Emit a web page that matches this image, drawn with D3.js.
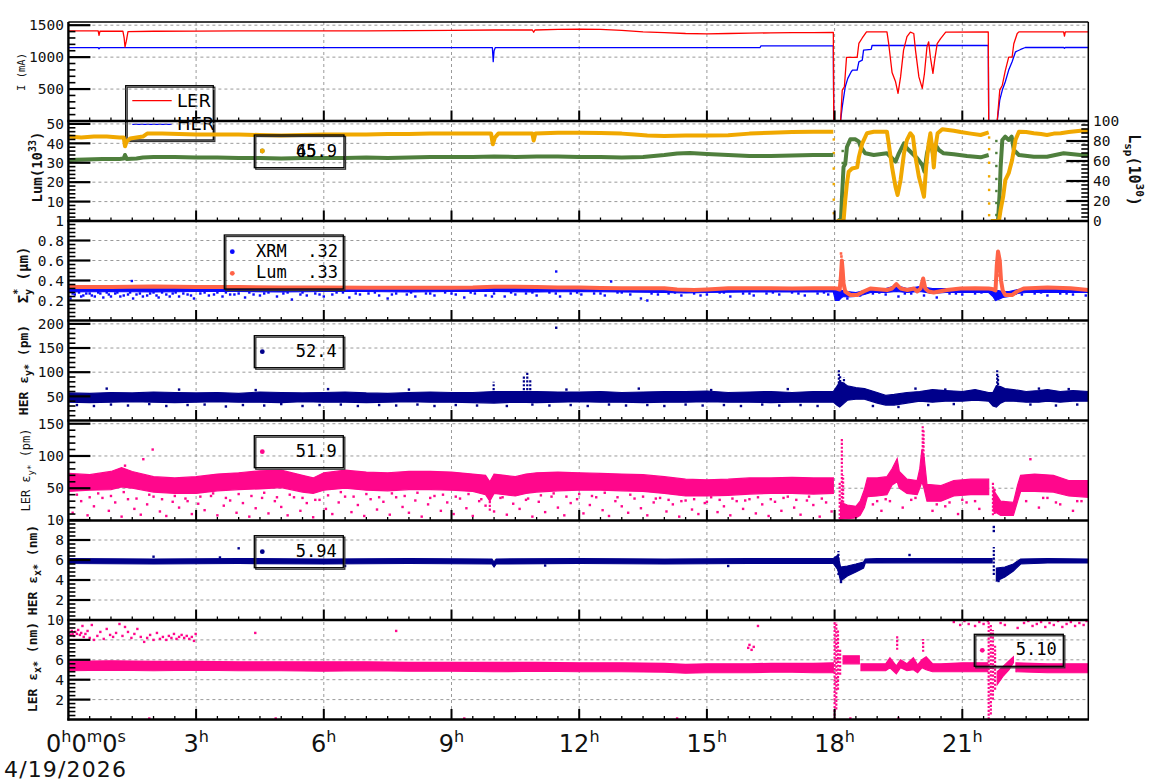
<!DOCTYPE html>
<html><head><meta charset="utf-8">
<script src="https://cdn.jsdelivr.net/npm/d3@7"></script>
<style>body{margin:0;background:#fff}svg{display:block}</style>
</head><body><svg id="chart" width="1160" height="782"></svg>
<script>
// ---------------- DATA ----------------
const hourTicks = [3,6,9,12,15,18,21];
const firstTickLabel = ["0","h","0","m","0","s"];
const dateLabel = "4/19/2026";
const ticksCurrent = [500,1000,1500];
const ticksLum = [10,20,30,40,50];
const ticksLsp = [0,20,40,60,80,100];
const ticksSigma = [0.2,0.4,0.6,0.8,1];
const ticksHerEy = [50,100,150,200];
const ticksLerEy = [50,100,150];
const ticksHerEx = [2,4,6,8,10];
const ticksLerEx = [2,4,6,8,10];

// Panel 1: beam currents (mA)
const lerT=[0,0.70,0.72,0.74,1.28,1.31,1.33,1.36,1.40,2,3,4,5,6,7,8,9,10,10.9,10.93,10.96,11.5,12,12.5,13,13.5,14,14.5,15,15.5,16,16.5,17,17.5,17.97,17.98,18.14,18.18,18.23,18.28,18.53,18.57,18.65,18.75,19.23,19.27,19.35,19.43,19.49,19.55,19.62,19.70,19.78,19.86,19.90,19.98,20.06,20.11,20.17,20.21,20.25,20.31,20.35,20.41,20.49,20.61,21.61,21.62,21.82,21.88,21.94,22.01,22.09,22.17,22.21,22.29,22.33,23.38,23.40,23.42,23.96];
const lerI=[1410,1410,1340,1405,1408,1300,1160,1250,1400,1405,1408,1410,1412,1410,1412,1415,1420,1425,1425,1390,1425,1435,1440,1435,1420,1395,1385,1370,1365,1370,1375,1380,1385,1385,1386,0,0,484,536,995,995,1214,1300,1395,1395,1214,760,620,432,690,1110,1320,1390,1370,1110,690,510,740,1160,1240,1000,745,950,1210,1290,1390,1395,0,0,484,560,790,1000,1000,1210,1370,1395,1395,1330,1395,1395];
const herT=[0,0.70,0.72,0.74,9.96,9.98,10.0,10.03,16.25,16.27,17.97,17.98,18.14,18.18,18.25,18.31,18.39,18.42,18.53,18.57,18.65,18.68,18.86,18.88,21.61,21.62,21.82,21.88,21.94,22.01,22.09,22.17,22.25,22.37,22.48,23.38,23.40,23.42,23.96];
const herI=[1150,1150,1130,1150,1150,930,1100,1150,1150,1177,1177,0,0,224,536,667,771,797,797,927,953,1109,1120,1182,1182,0,0,328,484,615,797,927,1083,1120,1151,1151,1138,1151,1151];

// Panel 2: luminosity (left axis) and specific luminosity (right axis)
const lumT=[0,0.3,0.6,0.9,1.2,1.3,1.33,1.37,1.45,1.6,1.75,1.85,2.2,2.6,3,3.5,4,4.5,5,5.5,6,6.5,7,7.5,8,8.5,9,9.5,9.93,9.97,10.02,10.1,10.5,10.9,10.93,10.97,11.5,12,12.5,13,13.3,13.6,14,14.5,15,15.5,16,16.5,17,17.5,17.97,17.98,18.05,18.21,18.25,18.29,18.33,18.41,18.53,18.57,18.65,18.76,18.92,19.23,19.27,19.35,19.43,19.48,19.55,19.63,19.70,19.78,19.84,19.90,19.98,20.06,20.10,20.15,20.21,20.25,20.29,20.33,20.37,20.42,20.53,20.80,20.96,21.2,21.43,21.62,21.63,21.67,21.86,21.9,21.96,22.01,22.09,22.17,22.25,22.33,22.5,22.68,22.85,22.99,23.15,23.31,23.5,23.78,23.96];
const lumV=[43.5,43,43.5,43.5,43,43,38.5,41,42.5,43,43.5,45,45,44.8,44.5,44.5,44.5,44.3,44,44.3,44.5,44.5,44.5,44.8,44.8,45,45,45,45,39.5,43,45,45,45,41.5,45,45.5,45.5,45.3,45,44.5,44,43.8,44,44,44.2,45,45.5,45.8,46,46,null,0,0,10.8,19.4,25.4,27,27.6,33,40,45.2,46,46,40,27.6,17.7,13.4,21.1,34.9,41.8,45.2,43.5,33,22.8,16,12.5,27.6,40,45.2,38.3,27.6,38.3,45.2,47.3,46.5,45.8,45,44.3,45.6,null,0,0,5.7,12.5,21,24.6,31.4,41.8,46,45.8,45.2,44.8,44.3,45,45.2,45.8,46.5,46.5];
const lspT=[0,0.4,0.8,1.2,1.3,1.33,1.37,1.6,1.75,2,2.5,3,3.5,4,4.5,5,5.5,6,6.5,7,7.5,8,8.5,9,9.5,10,10.5,11,11.5,12,12.5,13,13.5,14,14.3,14.6,15,15.5,16,16.5,17,17.5,17.97,17.98,18.08,18.15,18.17,18.21,18.25,18.29,18.37,18.49,18.57,18.61,18.72,18.92,19.23,19.35,19.43,19.51,19.63,19.70,19.82,19.94,20.06,20.11,20.17,20.25,20.31,20.37,20.45,20.56,20.80,21.11,21.43,21.62,21.63,21.84,21.88,21.9,21.94,22.01,22.09,22.16,22.21,22.33,22.68,22.99,23.38,23.78,23.96];
const lspV=[61,61.5,62,62,62.5,66,62,62.5,63.5,64,64,63.5,63.5,63,63,62.5,63,63,63,63.5,63,63.5,64,64,64,64.5,64,64.5,64.5,64,64,63.5,64,66,67.5,68,67,66,65,65,65.5,66,66,null,0,2,21,54,57,74,81.7,81.7,79.3,74.3,67.7,66,67.7,62.7,59.3,67.7,77.7,72.7,67.7,62.7,56,49.3,67.7,81,67.7,76,71,67.7,66.7,65,63.7,66,null,1,30,54,81,84.3,81,84.3,71,66,64.3,64.3,67.7,66,66];
const lumDotT=[17.98,17.98,17.98,17.98,17.98,17.98,21.63,21.63,21.63,21.63,21.63,21.63,21.63];
const lumDotV=[4,11,19,27,35,42,3,9,16,23,30,37,43];
const lspDotT=[18.19,18.19,18.19,18.19,18.19,18.19,21.80,21.80,21.80,21.80,21.80,21.80,21.80];
const lspDotV=[8,20,32,44,58,70,6,18,30,42,55,68,80];

// Panel 3: vertical beam size (um)
const tomT=[0,1,2,3,4,5,6,7,8,9,9.5,10,10.5,11,11.5,12,12.5,13,13.5,14,14.3,14.7,15,15.5,16,16.5,17,17.5,17.97,18.05,18.12,18.15,18.17,18.19,18.21,18.25,18.37,18.53,18.68,18.84,19.23,19.35,19.45,19.55,19.71,19.86,19.94,20.02,20.08,20.13,20.21,20.33,20.64,20.96,21.3,21.62,21.7,21.78,21.81,21.84,21.88,21.91,21.95,22.01,22.17,22.29,22.44,23.0,23.54,23.96];
const tomV=[.335,.335,.34,.335,.335,.33,.33,.328,.328,.328,.33,.338,.338,.335,.33,.33,.325,.322,.322,.322,.31,.305,.31,.322,.322,.322,.32,.322,.322,.32,.31,.45,.6,.5,.37,.29,.255,.255,.29,.32,.305,.32,.365,.32,.305,.32,.29,.32,.42,.32,.29,.28,.305,.32,.322,.32,.315,.3,.55,.69,.6,.4,.3,.255,.255,.29,.32,.33,.322,.305];
const tomDotT=[18.15,18.16,18.16,18.17,18.15,21.83,21.84,21.85,21.83];
const tomDotV=[0.67,0.64,0.58,0.52,0.47,0.66,0.62,0.5,0.45];
const xrmT=[0,1,2,3,4,5,6,7,8,9,10,11,12,13,14,14.5,15,16,17,17.97,18.02,18.1,18.14,18.2,18.3,18.5,18.7,18.85,19.2,19.45,19.7,20.0,20.3,20.6,21.0,21.62,21.72,21.78,21.85,21.95,22.1,22.3,22.5,23,23.5,23.96];
const xrmLo=[.285,.29,.285,.29,.29,.285,.29,.29,.285,.29,.29,.285,.29,.285,.28,.275,.28,.285,.285,.285,.2,.2,.22,.24,.235,.24,.26,.28,.28,.29,.28,.29,.27,.28,.28,.28,.24,.2,.21,.23,.24,.27,.28,.28,.28,.28];
const xrmHi=[.325,.33,.33,.325,.325,.325,.325,.32,.32,.32,.33,.33,.325,.32,.315,.305,.31,.315,.315,.32,.31,.3,.3,.3,.29,.28,.3,.32,.32,.35,.32,.34,.32,.32,.32,.32,.3,.3,.3,.29,.29,.31,.32,.33,.32,.32];
const xrmDotT=[0.05,0.15,0.3,0.42,0.55,0.7,0.82,0.95,1.1,1.22,1.4,1.52,1.68,1.85,2.0,2.12,2.3,2.45,2.6,2.8,2.95,3.1,3.3,3.5,3.62,3.8,4.0,4.15,4.35,4.5,4.7,4.9,5.05,5.25,5.45,5.6,5.8,6.0,6.2,6.45,6.6,6.85,7.05,7.3,7.5,7.7,7.95,8.15,8.4,8.6,8.85,9.1,9.3,9.55,9.8,10.0,10.25,10.5,10.75,11.0,11.3,11.55,11.8,12.05,12.35,12.6,12.9,13.2,13.45,13.6,13.85,14.1,14.4,14.7,15.0,15.3,15.55,15.85,16.1,16.4,16.7,17.0,17.3,17.6,17.85,18.3,18.6,18.9,19.2,19.5,19.8,20.1,20.4,20.7,21.0,21.3,22.4,22.7,23.0,23.3,23.6,23.9,1.49,11.46,12.75,
 0.1,0.25,0.35,0.5,0.62,0.75,0.9,1.0,1.15,1.3,1.45,1.6,1.75,1.92,2.07,2.2,2.38,2.52,2.7,2.88,3.2,3.42,3.7,3.9,4.25,4.6,5.15,5.5,5.9,6.3,6.75,7.2,7.6,8.05,8.5,9.0,9.45,9.95,10.4,10.9,11.45,11.95,12.5,13.0,13.7,14.25,14.85,15.4,16.0,16.55,17.15,17.75,18.45,19.05,19.65,20.25,20.85,21.45,22.25,22.85,23.45];
const xrmDotV=[0.22,0.26,0.24,0.27,0.25,0.28,0.23,0.26,0.27,0.24,0.26,0.22,0.27,0.25,0.28,0.23,0.26,0.27,0.24,0.26,0.22,0.27,0.25,0.28,0.24,0.26,0.27,0.23,0.26,0.25,0.28,0.24,0.27,0.21,0.26,0.25,0.27,0.24,0.26,0.28,0.23,0.26,0.27,0.25,0.22,0.27,0.26,0.24,0.27,0.25,0.28,0.26,0.23,0.27,0.25,0.27,0.24,0.26,0.27,0.25,0.28,0.24,0.27,0.26,0.27,0.25,0.28,0.26,0.22,0.2,0.26,0.27,0.25,0.27,0.26,0.28,0.24,0.27,0.25,0.27,0.26,0.28,0.25,0.27,0.26,0.22,0.25,0.27,0.26,0.24,0.27,0.25,0.23,0.27,0.26,0.27,0.26,0.27,0.25,0.27,0.26,0.25,0.395,0.49,0.39,
 0.27,0.28,0.25,0.27,0.24,0.27,0.28,0.24,0.28,0.25,0.28,0.26,0.24,0.27,0.25,0.28,0.24,0.28,0.27,0.25,0.28,0.26,0.28,0.26,0.28,0.27,0.28,0.28,0.26,0.28,0.27,0.28,0.26,0.28,0.27,0.27,0.28,0.24,0.28,0.28,0.27,0.28,0.27,0.28,0.27,0.28,0.25,0.28,0.27,0.28,0.27,0.28,0.27,0.28,0.27,0.28,0.27,0.28,0.27,0.28,0.27];

// Panel 4: HER vertical emittance (pm)
const herEyT=[0,0.5,1,1.5,2,2.5,3,3.5,4,4.5,5,5.5,6,6.5,7,7.5,8,8.5,9,9.5,10,10.5,11,11.5,12,12.5,13,13.5,14,14.5,15,15.5,16,16.5,17,17.5,17.97,18.05,18.12,18.2,18.3,18.5,18.7,19.0,19.2,19.4,19.7,20.0,20.3,20.6,21.0,21.3,21.62,21.72,21.8,21.9,22.0,22.2,22.5,22.8,23,23.3,23.6,23.96];
const herEyLo=[38,37,38,39,38,37,38,39,38,38,37,39,38,38,37,38,39,38,38,37,36,38,37,38,39,38,38,37,38,38,39,38,38,37,38,38,38,32,28,34,42,44,44,36,32,32,36,40,38,40,40,42,40,30,28,36,40,40,38,38,40,38,40,40];
const herEyHi=[57,56,58,57,59,58,57,58,56,59,58,57,58,59,57,56,58,59,58,58,60,60,60,59,59,60,58,59,60,60,61,58,59,60,58,60,60,70,80,78,72,68,66,58,52,54,58,60,64,62,60,64,58,58,72,70,66,64,60,62,64,60,62,60];
const herEySpikeT=[9.99,10.7,10.78,10.85,18.1,18.13,18.22,21.82,21.84];
const herEySpikeLo=[55,55,55,55,45,40,50,45,50];
const herEySpikeHi=[80,92,101,85,104,95,90,104,92];
const herEyDotT=[0.2,0.6,0.9,1.0,1.4,1.9,2.3,2.6,2.8,3.2,3.7,4.1,4.4,4.6,5.0,5.5,5.9,6.1,6.4,6.8,7.3,7.7,8.0,8.2,8.6,9.1,9.6,10.3,10.9,11.3,11.46,11.7,11.8,12.2,12.7,13.1,13.4,13.6,14.0,14.5,14.9,15.1,15.4,15.8,16.3,16.7,16.9,17.2,17.6,18.9,19.5,19.9,20.2,20.6,20.8,22.6,22.8,23.2,23.5,23.7];
const herEyDotV=[32,30,66,33,31,34,30,64,32,33,29,32,63,31,34,30,32,65,33,30,32,31,64,33,30,32,31,30,33,31,192,64,32,30,33,31,66,32,30,33,31,63,32,30,33,31,65,32,30,30,28,66,32,64,34,33,66,31,65,33];

// Panel 5: LER vertical emittance (pm)
const lerEyT=[0,0.5,1,1.25,1.5,2,2.5,3,3.5,4,4.5,5,5.5,5.75,6,6.5,7,7.5,8,8.5,9,9.5,9.8,9.9,10,10.25,10.5,10.75,11,11.5,12,12.5,13,13.5,14,14.5,15,15.5,16,16.5,17,17.5,17.97,17.99,18.14,18.3,18.5,18.6,18.7,18.77,19.0,19.23,19.35,19.47,19.52,19.7,19.94,20.0,20.05,20.1,20.17,20.5,20.8,21.2,21.62,21.66,21.73,21.9,22.2,22.3,22.37,22.7,23.14,23.5,23.96];
const lerEyLo=[45,47,48,52,50,44,42,42,46,48,49,51,44,42,47,50,47,46,48,48,47,45,40,30,42,40,38,42,44,46,47,47,46,45,42,38,38,39,41,42,42,41,42,null,2,3,4,8,20,37,38,40,55,60,50,42,40,50,60,50,30,30,38,40,40,null,15,8,8,30,45,45,44,38,36];
const lerEyHi=[73,71,76,82,76,68,66,68,72,74,77,78,70,66,74,78,75,74,76,76,75,72,70,60,72,70,68,72,74,75,74,73,72,71,68,64,63,64,66,66,67,66,66,null,28,24,22,30,48,66,66,68,80,96,76,64,62,80,110,100,56,54,62,64,64,null,47,30,28,55,70,72,70,62,62];
const lerEySpikeT=[9.9,18.12,18.17,18.2,20.07,20.09,21.72,21.76];
const lerEySpikeLo=[15,2,5,10,90,95,8,10];
const lerEySpikeHi=[45,60,128,70,146,140,60,50];
const lerEyDotT=[0.1,0.3,0.45,0.6,0.8,0.95,1.1,1.25,1.4,1.55,1.7,1.85,2.0,2.15,2.3,2.45,2.6,2.75,2.9,3.05,3.2,3.35,3.5,3.65,3.8,3.95,4.1,4.25,4.4,4.55,4.7,4.85,5.0,5.15,5.3,5.45,5.6,5.75,5.9,6.05,6.2,6.35,6.5,6.65,6.8,6.95,7.1,7.25,7.4,7.55,7.7,7.85,8.0,8.15,8.3,8.45,8.6,8.75,8.9,9.05,9.2,9.35,9.5,9.65,9.8,10.0,10.15,10.3,10.45,10.6,10.75,10.9,11.05,11.2,11.35,11.5,11.65,11.8,11.95,12.1,12.25,12.4,12.55,12.7,12.85,13.0,13.15,13.3,13.45,13.6,13.75,13.9,14.05,14.2,14.35,14.5,14.65,14.8,14.95,15.1,15.25,15.4,15.55,15.7,15.85,16.0,16.15,16.3,16.45,16.6,16.75,16.9,17.05,17.2,17.35,17.5,17.65,17.8,17.93,1.33,1.76,1.98,18.9,19.1,19.3,19.6,19.8,20.3,20.6,20.9,21.1,21.4,22.5,22.6,22.8,23.0,23.3,23.6,23.8,
 0.2,0.5,0.7,1.0,1.3,1.6,1.9,2.2,2.5,2.8,3.1,3.4,3.7,4.0,4.3,4.6,4.9,5.2,5.5,5.8,6.1,6.4,6.7,7.0,7.3,7.6,7.9,8.2,8.5,8.8,9.1,9.4,9.7,10.2,10.5,10.8,11.1,11.4,11.7,12.0,12.3,12.6,12.9,13.2,13.5,13.8,14.1,14.4,14.7,15.0,15.3,15.6,15.9,16.2,16.5,16.8,17.1,17.4,17.7,19.0,19.2,19.9,20.4,20.7,21.0,21.3,22.9,23.2,23.7];
const lerEyDotV=[12,30,8,22,35,15,28,6,33,18,9,25,37,14,7,29,20,34,10,26,16,38,8,23,31,12,27,6,19,35,11,30,21,8,36,15,27,5,32,18,10,28,37,13,24,7,33,17,29,9,36,21,12,31,6,25,38,15,28,10,34,19,7,30,23,14,35,9,26,18,32,6,29,13,37,20,8,27,33,11,24,36,16,7,30,22,12,34,19,8,28,35,14,25,6,31,17,10,27,36,13,22,8,30,18,33,11,25,7,29,15,37,20,9,31,24,6,28,14,85,95,110,25,15,30,20,32,15,22,10,28,18,30,95,20,35,25,15,30,
 40,36,42,38,44,34,40,33,38,30,37,42,35,41,38,43,36,40,35,32,39,44,37,41,36,42,38,43,35,40,37,41,33,36,40,34,39,42,37,41,38,43,36,40,37,34,32,30,33,29,32,34,31,36,33,35,32,37,34,30,33,35,25,28,32,30,35,28,30];

// Panel 6: HER horizontal emittance (nm)
const herExT=[0,2,4,6,8,9.95,10.0,10.05,12,14,16,17.97,18.08,18.14,18.3,18.5,18.68,18.72,19,20,21,21.7,21.76,21.8,22.0,22.2,22.37,23,23.96];
const herExLo=[5.65,5.6,5.65,5.6,5.65,5.6,5.3,5.6,5.65,5.6,5.65,5.65,5.0,3.9,4.4,4.8,5.2,5.7,5.7,5.72,5.7,5.7,null,3.9,4.3,4.9,5.6,5.7,5.7];
const herExHi=[6.15,6.1,6.15,6.1,6.15,6.1,5.8,6.1,6.15,6.1,6.15,6.15,6.5,5.3,5.4,5.6,5.8,6.1,6.15,6.15,6.15,6.15,null,5.2,5.3,5.6,6.1,6.15,6.1];
const herExSpikeT=[18.09,21.74];
const herExSpikeLo=[4.5,4.5];
const herExSpikeHi=[6.9,7.3];
const herExDotT=[2.0,3.56,4.0,6.5,11.2,15.5,18.15,19.76,21.74,21.74,21.85];
const herExDotV=[6.33,6.25,7.17,5.4,5.45,5.4,3.8,6.5,9.3,8.9,3.9];

// Panel 7: LER horizontal emittance (nm)
const lerExT=[0,1,2,3,4,5,6,7,8,9,10,11,12,13,14,14.5,15,15.5,16,16.5,17,17.5,17.97,17.99,18.2,18.58,18.6,18.62,19.2,19.3,19.45,19.55,19.7,19.85,19.95,20.05,20.15,20.3,20.5,21.0,21.6,21.65,21.82,21.95,22.1,22.2,22.23,22.26,23,23.96];
const lerExLo=[4.9,4.95,4.9,4.95,4.9,4.9,4.85,4.9,4.85,4.85,4.8,4.85,4.8,4.8,4.75,4.65,4.7,4.7,4.7,4.75,4.75,4.7,4.7,null,5.6,5.6,null,4.9,4.9,5.2,4.6,5.2,4.9,5.0,4.7,5.2,5.0,4.8,4.8,4.8,4.8,null,3.5,4.3,5.0,5.7,null,4.8,4.7,4.7];
const lerExHi=[5.85,5.9,5.85,5.85,5.8,5.8,5.8,5.8,5.75,5.75,5.75,5.75,5.7,5.7,5.65,5.55,5.6,5.6,5.6,5.65,5.65,5.65,5.7,null,6.4,6.4,null,5.6,5.6,6.2,5.4,6.0,5.6,6.2,5.5,6.0,6.3,5.6,5.6,5.7,5.7,null,4.8,5.3,5.9,6.3,null,5.7,5.6,5.6];
const lerExSpikeT=[18.0,18.04,18.08,18.13,21.62,21.67,21.72,21.77,19.47,20.08];
const lerExSpikeLo=[0,1,3,4.5,0,0.5,2,3,7.0,6.8];
const lerExSpikeHi=[10,9.8,9,7,10,9.6,9,7.5,8.5,8.1];
const lerExDotT=[0.02,0.05,0.08,0.1,0.13,0.16,0.2,0.23,0.27,0.3,0.33,0.36,0.4,0.45,0.5,0.55,0.6,0.68,0.75,0.83,0.9,0.98,1.05,1.12,1.2,1.27,1.33,1.4,1.48,1.55,1.62,1.7,1.78,1.85,1.92,2.0,2.08,2.15,2.22,2.3,2.36,2.42,2.48,2.54,2.6,2.66,2.72,2.78,2.84,2.9,2.95,2.99,4.39,7.7,15.97,16.05,16.1,16.2,16.0,20.8,20.95,21.05,21.15,21.3,21.4,21.5,21.6,21.9,22.0,22.3,22.45,22.55,22.65,22.75,22.85,22.95,23.05,23.15,23.25,23.35,23.45,23.55,23.65,23.75,23.85,23.92,1.9,4.87,9.3,14.3,18.37,19.5];
const lerExDotV=[8.7,8.5,8.9,8.6,8.4,8.8,8.6,9.0,8.5,8.7,9.4,8.3,8.6,8.9,8.2,9.5,8.0,8.4,8.8,8.1,9.1,8.5,8.3,8.7,9.6,8.4,9.3,8.8,8.2,8.6,9.1,8.3,7.8,8.2,8.5,8.0,8.7,8.1,8.3,8.0,8.4,8.2,8.6,8.1,8.3,8.5,8.2,8.4,8.1,8.3,7.9,8.6,8.7,8.9,7.2,7.0,7.3,9.4,7.5,9.8,9.5,9.9,9.6,9.4,9.8,9.6,9.9,9.7,9.5,9.2,9.7,9.9,9.4,9.6,9.8,9.3,9.7,9.5,9.9,9.3,9.6,9.8,9.4,9.7,9.5,9.9,0.1,0.1,0.1,0.1,0.1,0.1];

// legend values
const legendLum = ["65.9","45"];
const legendSigma = [["XRM","  .32"],["Lum","  .33"]];
const legendHerEy = "52.4", legendLerEy = "51.9", legendHerEx = "5.94", legendLerEx = "5.10";

// ---------------- DRAW ----------------
const C = {ler:"#ff0000", her:"#0000ff", lum:"#f0a800", lsp:"#4f7f3d", xrm:"#0a0aff", tom:"#ff6347", navy:"#00008b", pink:"#ff078c"};
const svg = d3.select("#chart");
svg.append("rect").attr("width",1160).attr("height",782).attr("fill","#fff");
const XL = 68.4, XR = 1088.3;
const x = d3.scaleLinear().domain([0,23.96]).range([XL,XR]);
const P = [
  {top:22, bot:121, dom:[0,1550], majors:ticksCurrent, minor:100, fmt:d=>d},
  {top:121, bot:221, dom:[0,51.5], majors:ticksLum, minor:2, fmt:d=>d},
  {top:220.5, bot:320.5, dom:[0,1], majors:ticksSigma, minor:0.04, fmt:d=>d===1?"1":d.toFixed(1)},
  {top:320, bot:420.5, dom:[0,208], majors:ticksHerEy, minor:10, fmt:d=>d},
  {top:420.5, bot:520.5, dom:[0,155], majors:ticksLerEy, minor:10, fmt:d=>d},
  {top:520, bot:620, dom:[0,10], majors:ticksHerEx, minor:0.4, fmt:d=>d},
  {top:620, bot:719.5, dom:[0,10], majors:ticksLerEx, minor:0.4, fmt:d=>d}
];
P.forEach(p=>{p.y=d3.scaleLinear().domain(p.dom).range([p.bot,p.top]);});
const yR = d3.scaleLinear().domain([0,100]).range([221,121]);
const defs = svg.append("defs");
P.forEach((p,i)=>defs.append("clipPath").attr("id","cp"+i).append("rect")
  .attr("x",XL).attr("y",p.top).attr("width",XR-XL).attr("height",p.bot-p.top));

const MONO = "'DejaVu Sans Mono', monospace";
const SANS = "'DejaVu Sans', sans-serif";

function legendBox(g,bx,by,bw,bh){
  g.append("rect").attr("x",bx+1.5).attr("y",by+1.5).attr("width",bw).attr("height",bh)
   .attr("fill","none").attr("stroke","#333").attr("stroke-width",1.3);
  g.append("rect").attr("x",bx).attr("y",by).attr("width",bw).attr("height",bh)
   .attr("fill","none").attr("stroke","#000").attr("stroke-width",1.3);
}

{
  const g = svg.append("g");
  legendBox(g,125.7,85.7,87.6,54.3);
  g.append("line").attr("x1",132.3).attr("x2",171.7).attr("y1",100.7).attr("y2",100.7).attr("stroke",C.ler).attr("stroke-width",1.2);
  g.append("line").attr("x1",132.3).attr("x2",171.7).attr("y1",124.3).attr("y2",124.3).attr("stroke",C.her).attr("stroke-width",1.2);
  g.append("text").attr("x",177).attr("y",107).attr("font-family",SANS).attr("font-size",18).text("LER");
  g.append("text").attr("x",177).attr("y",130).attr("font-family",SANS).attr("font-size",18).text("HER");
}

const grid = svg.append("g").attr("stroke","#9a9a9a").attr("stroke-width",1).attr("stroke-dasharray","3,3");
hourTicks.forEach(h=>grid.append("line").attr("x1",x(h)).attr("x2",x(h)).attr("y1",22).attr("y2",719.5));
P.forEach(p=>p.majors.forEach(v=>{const yy=p.y(v); if(yy>p.top+1.5) grid.append("line").attr("x1",XL).attr("x2",XR).attr("y1",yy).attr("y2",yy);}));

function pg(i){return svg.append("g").attr("clip-path","url(#cp"+i+")");}
function drawLine(g,T,V,ys,color,w){
  const data=T.map((t,k)=>[t,V[k]]);
  g.append("path").datum(data).attr("fill","none").attr("stroke",color).attr("stroke-width",w)
   .attr("stroke-linejoin","round")
   .attr("d",d3.line().defined(d=>d[1]!==null).x(d=>x(d[0])).y(d=>ys(d[1])));
}
function drawBand(g,T,LO,HI,ys,color){
  const data=T.map((t,k)=>[t,LO[k],HI[k]]);
  g.append("path").datum(data).attr("fill",color).attr("stroke",color).attr("stroke-width",1.2)
   .attr("d",d3.area().defined(d=>d[1]!==null).x(d=>x(d[0])).y0(d=>ys(d[1])).y1(d=>ys(d[2])));
}
function drawDots(g,T,V,ys,color,s){
  g.selectAll(null).data(T.map((t,k)=>[t,V[k]])).enter().append("rect")
   .attr("x",d=>x(d[0])-s/2).attr("y",d=>ys(d[1])-s/2).attr("width",s).attr("height",s).attr("fill",color);
}
function drawSpikes(g,T,LO,HI,ys,color){
  g.selectAll(null).data(T.map((t,k)=>[t,LO[k],HI[k]])).enter().append("line")
   .attr("x1",d=>x(d[0])).attr("x2",d=>x(d[0])).attr("y1",d=>ys(d[1])).attr("y2",d=>ys(d[2]))
   .attr("stroke",color).attr("stroke-width",2.2).attr("stroke-dasharray","2.2,1.6");
}

{const g=pg(0); drawLine(g,herT,herI,P[0].y,C.her,1.3); drawLine(g,lerT,lerI,P[0].y,C.ler,1.3);}
{const g=pg(1);
 drawDots(g,lspDotT,lspDotV,yR,C.lsp,2.4);
 drawDots(g,lumDotT,lumDotV,P[1].y,C.lum,2.4);
 drawLine(g,lspT,lspV,yR,C.lsp,4);
 drawLine(g,lumT,lumV,P[1].y,C.lum,4);}
{const g=pg(2);
 drawDots(g,xrmDotT,xrmDotV,P[2].y,C.xrm,2.4);
 drawBand(g,xrmT,xrmLo,xrmHi,P[2].y,C.xrm);
 drawLine(g,tomT,tomV,P[2].y,C.tom,4);
 drawDots(g,tomDotT,tomDotV,P[2].y,C.tom,2.6);}
{const g=pg(3);
 drawDots(g,herEyDotT,herEyDotV,P[3].y,C.navy,2.4);
 drawBand(g,herEyT,herEyLo,herEyHi,P[3].y,C.navy);
 drawSpikes(g,herEySpikeT,herEySpikeLo,herEySpikeHi,P[3].y,C.navy);}
{const g=pg(4);
 drawDots(g,lerEyDotT,lerEyDotV,P[4].y,C.pink,2.4);
 drawBand(g,lerEyT,lerEyLo,lerEyHi,P[4].y,C.pink);
 drawSpikes(g,lerEySpikeT,lerEySpikeLo,lerEySpikeHi,P[4].y,C.pink);}
{const g=pg(5);
 drawDots(g,herExDotT,herExDotV,P[5].y,C.navy,2.4);
 drawBand(g,herExT,herExLo,herExHi,P[5].y,C.navy);
 drawSpikes(g,herExSpikeT,herExSpikeLo,herExSpikeHi,P[5].y,C.navy);}
{const g=pg(6);
 drawDots(g,lerExDotT,lerExDotV,P[6].y,C.pink,2.4);
 drawBand(g,lerExT,lerExLo,lerExHi,P[6].y,C.pink);
 drawSpikes(g,lerExSpikeT,lerExSpikeLo,lerExSpikeHi,P[6].y,C.pink);}

const fr = svg.append("g").attr("stroke","#000");
fr.append("line").attr("x1",XL).attr("x2",XR).attr("y1",22).attr("y2",22).attr("stroke-width",1.3);
fr.append("line").attr("x1",XR).attr("x2",XR).attr("y1",22).attr("y2",719.5).attr("stroke-width",1.5);
P.forEach(p=>{
  d3.range(1,48).forEach(k=>{const h=k*0.5; if(x(h)>=XR-0.5) return; const major=(k%6===0);
    fr.append("line").attr("x1",x(h)).attr("x2",x(h)).attr("y1",p.bot).attr("y2",p.bot-(major?10.5:3.5)).attr("stroke-width",major?2:1.3);});
  const n=Math.round(p.dom[1]/p.minor);
  for(let k=1;k<=n;k++){const v=k*p.minor; const yy=p.y(v); if(yy<p.top-0.5) continue;
    const major=p.majors.some(m=>Math.abs(m-v)<p.minor/2);
    fr.append("line").attr("x1",XL).attr("x2",XL+(major?22:7)).attr("y1",yy).attr("y2",yy).attr("stroke-width",major?2.2:1.6);}
  fr.append("line").attr("x1",XL-1).attr("x2",XR+0.7).attr("y1",p.bot).attr("y2",p.bot).attr("stroke-width",2.6);
});
for(let v=4;v<100;v+=4){const major=(v%20===0);
  fr.append("line").attr("x1",XR).attr("x2",XR-(major?22:7)).attr("y1",yR(v)).attr("y2",yR(v)).attr("stroke-width",major?2.2:1.6);}
fr.append("line").attr("x1",XL).attr("x2",XL).attr("y1",22).attr("y2",720.5).attr("stroke-width",2.4);

const lab = svg.append("g").attr("font-family",MONO).attr("font-size",14.5).attr("fill","#111");
P.forEach(p=>p.majors.forEach(v=>{
  lab.append("text").attr("x",64).attr("y",p.y(v)).attr("dy","0.36em").attr("text-anchor","end").text(p.fmt(v));}));
ticksLsp.forEach(v=>lab.append("text").attr("x",1093).attr("y",yR(v)).attr("dy","0.36em").text(v));

const xl = svg.append("g").attr("font-family",SANS).attr("fill","#111");
hourTicks.forEach(h=>{const t=xl.append("text").attr("x",x(h)).attr("y",752).attr("text-anchor","middle").attr("font-size",24);
  t.append("tspan").text(h); t.append("tspan").attr("dy",-10).attr("font-size",16).text("h");});
{const t=xl.append("text").attr("x",46).attr("y",752).attr("font-size",24);
 firstTickLabel.forEach((s,k)=>{const sp=t.append("tspan").text(s); if(k%2===1) sp.attr("dy",-10).attr("font-size",16); else if(k>0) sp.attr("dy",10);});}
xl.append("text").attr("x",4).attr("y",776.5).attr("font-size",22).attr("textLength",122).attr("lengthAdjust","spacing").text(dateLabel);

function vtitle(cx,cy,rot,size,weight,parts){
  const t=svg.append("text").attr("transform",`translate(${cx},${cy}) rotate(${rot})`).attr("text-anchor","middle")
    .attr("font-family",MONO).attr("font-size",size).attr("font-weight",weight).attr("fill","#111");
  parts.forEach(pt=>{const s=t.append("tspan").text(pt[0]); if(pt[1]) s.attr("dy",pt[1]); if(pt[2]) s.attr("font-size",pt[2]); if(pt[3]) s.attr("dx",pt[3]);});
}
vtitle(25,72,-90,10.5,"normal",[["I (mA)"]]);
vtitle(42,167,-90,14,"bold",[["Lum(10"],["33",-6,10],[")",6]]);
vtitle(1129,170,90,15,"bold",[["L"],["sp",4,11],["(10",-4],["30",-7,11],[")",7]]);
vtitle(28,275,-90,14,"bold",[["Σ"],["y",4,10],["*",-11,10,-6],[" (μm)",7]]);
vtitle(28,370,-90,13,"bold",[["HER ε"],["y*",4,10],[" (pm)",-4]]);
vtitle(30,470,-90,12,"normal",[["LER ε"],["y*",4,9],[" (pm)",-4]]);
vtitle(37,570,-90,13,"bold",[["HER ε"],["x*",4,10],[" (nm)",-4]]);
vtitle(37,667,-90,13,"bold",[["LER ε"],["x*",4,10],[" (nm)",-4]]);

function valueLegend(bx,by,color,txt){
  const g=svg.append("g"); legendBox(g,bx,by,89,32);
  g.append("circle").attr("cx",bx+8).attr("cy",by+16).attr("r",2.4).attr("fill",color);
  g.append("text").attr("x",bx+82.4).attr("y",by+21).attr("text-anchor","end").attr("font-family",MONO).attr("font-size",17).text(txt);
  return g;
}
{const g=svg.append("g"); legendBox(g,254.3,135,89.7,32.7);
 g.append("circle").attr("cx",262.3).attr("cy",151).attr("r",2.4).attr("fill",C.lsp);
 g.append("circle").attr("cx",262.3).attr("cy",151).attr("r",2.4).attr("fill",C.lum);
 g.append("text").attr("x",296).attr("y",156.5).attr("font-family",MONO).attr("font-size",17).text(legendLum[0]);
 g.append("text").attr("x",296).attr("y",156.5).attr("font-family",MONO).attr("font-size",17).text(legendLum[1]);}
{const g=svg.append("g"); legendBox(g,224.3,235,119,54);
 g.append("circle").attr("cx",232.3).attr("cy",251.7).attr("r",2.4).attr("fill",C.xrm);
 g.append("circle").attr("cx",232.3).attr("cy",273.3).attr("r",2.4).attr("fill",C.tom);
 [[256.7,legendSigma[0]],[278.3,legendSigma[1]]].forEach(([yy,l])=>
   g.append("text").attr("x",256).attr("y",yy).attr("font-family",MONO).attr("font-size",17).attr("xml:space","preserve").style("white-space","pre").text(l[0]+l[1]));}
valueLegend(254.3,335.7,C.navy,legendHerEy);
valueLegend(254.3,435.7,C.pink,legendLerEy);
valueLegend(254.3,535.7,C.navy,legendHerEx);
valueLegend(974.3,634.3,C.pink,legendLerEx);
</script></body></html>
